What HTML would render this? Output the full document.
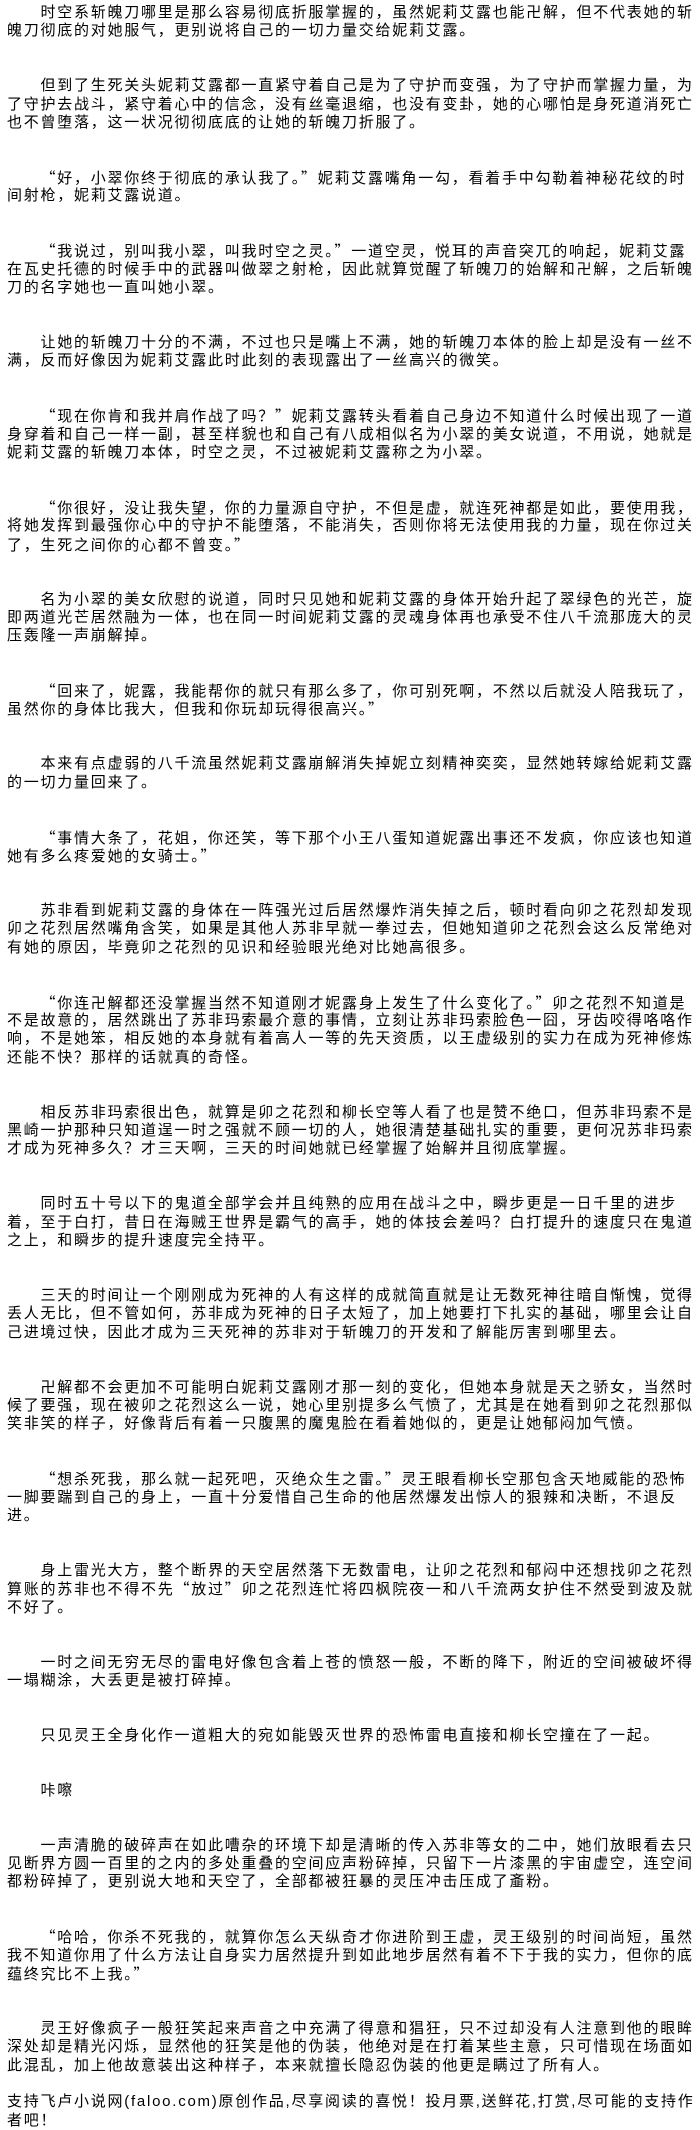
<!DOCTYPE html>
<html><head><meta charset="utf-8">
<style>
html,body{margin:0;padding:0;background:#fff;}
body{width:700px;height:2129px;overflow:hidden;}
#c{padding:4px 0 0 7px;font-family:"Liberation Sans","Noto Sans CJK SC",sans-serif;font-size:15px;letter-spacing:1.75px;color:#000;}
.l{height:18.33px;line-height:18.33px;white-space:nowrap;}
.p{margin-bottom:36.66px;}
.i{padding-left:33.5px;}
.q{font-family:"Noto Sans CJK SC",sans-serif;}
.f{margin-top:18.33px;}
</style></head><body><div id="c">
<div class="p"><div class="l i">时空系斩魄刀哪里是那么容易彻底折服掌握的，虽然妮莉艾露也能卍解，但不代表她的斩</div><div class="l">魄刀彻底的对她服气，更别说将自己的一切力量交给妮莉艾露。</div></div>
<div class="p"><div class="l i">但到了生死关头妮莉艾露都一直紧守着自己是为了守护而变强，为了守护而掌握力量，为</div><div class="l">了守护去战斗，紧守着心中的信念，没有丝毫退缩，也没有变卦，她的心哪怕是身死道消死亡</div><div class="l">也不曾堕落，这一状况彻彻底底的让她的斩魄刀折服了。</div></div>
<div class="p"><div class="l i"><span class="q">“</span>好，小翠你终于彻底的承认我了。<span class="q">”</span>妮莉艾露嘴角一勾，看着手中勾勒着神秘花纹的时</div><div class="l">间射枪，妮莉艾露说道。</div></div>
<div class="p"><div class="l i"><span class="q">“</span>我说过，别叫我小翠，叫我时空之灵。<span class="q">”</span>一道空灵，悦耳的声音突兀的响起，妮莉艾露</div><div class="l">在瓦史托德的时候手中的武器叫做翠之射枪，因此就算觉醒了斩魄刀的始解和卍解，之后斩魄</div><div class="l">刀的名字她也一直叫她小翠。</div></div>
<div class="p"><div class="l i">让她的斩魄刀十分的不满，不过也只是嘴上不满，她的斩魄刀本体的脸上却是没有一丝不</div><div class="l">满，反而好像因为妮莉艾露此时此刻的表现露出了一丝高兴的微笑。</div></div>
<div class="p"><div class="l i"><span class="q">“</span>现在你肯和我并肩作战了吗？<span class="q">”</span>妮莉艾露转头看着自己身边不知道什么时候出现了一道</div><div class="l">身穿着和自己一样一副，甚至样貌也和自己有八成相似名为小翠的美女说道，不用说，她就是</div><div class="l">妮莉艾露的斩魄刀本体，时空之灵，不过被妮莉艾露称之为小翠。</div></div>
<div class="p"><div class="l i"><span class="q">“</span>你很好，没让我失望，你的力量源自守护，不但是虚，就连死神都是如此，要使用我，</div><div class="l">将她发挥到最强你心中的守护不能堕落，不能消失，否则你将无法使用我的力量，现在你过关</div><div class="l">了，生死之间你的心都不曾变。<span class="q">”</span></div></div>
<div class="p"><div class="l i">名为小翠的美女欣慰的说道，同时只见她和妮莉艾露的身体开始升起了翠绿色的光芒，旋</div><div class="l">即两道光芒居然融为一体，也在同一时间妮莉艾露的灵魂身体再也承受不住八千流那庞大的灵</div><div class="l">压轰隆一声崩解掉。</div></div>
<div class="p"><div class="l i"><span class="q">“</span>回来了，妮露，我能帮你的就只有那么多了，你可别死啊，不然以后就没人陪我玩了，</div><div class="l">虽然你的身体比我大，但我和你玩却玩得很高兴。<span class="q">”</span></div></div>
<div class="p"><div class="l i">本来有点虚弱的八千流虽然妮莉艾露崩解消失掉妮立刻精神奕奕，显然她转嫁给妮莉艾露</div><div class="l">的一切力量回来了。</div></div>
<div class="p"><div class="l i"><span class="q">“</span>事情大条了，花姐，你还笑，等下那个小王八蛋知道妮露出事还不发疯，你应该也知道</div><div class="l">她有多么疼爱她的女骑士。<span class="q">”</span></div></div>
<div class="p"><div class="l i">苏非看到妮莉艾露的身体在一阵强光过后居然爆炸消失掉之后，顿时看向卯之花烈却发现</div><div class="l">卯之花烈居然嘴角含笑，如果是其他人苏非早就一拳过去，但她知道卯之花烈会这么反常绝对</div><div class="l">有她的原因，毕竟卯之花烈的见识和经验眼光绝对比她高很多。</div></div>
<div class="p"><div class="l i"><span class="q">“</span>你连卍解都还没掌握当然不知道刚才妮露身上发生了什么变化了。<span class="q">”</span>卯之花烈不知道是</div><div class="l">不是故意的，居然跳出了苏非玛索最介意的事情，立刻让苏非玛索脸色一囧，牙齿咬得咯咯作</div><div class="l">响，不是她笨，相反她的本身就有着高人一等的先天资质，以王虚级别的实力在成为死神修炼</div><div class="l">还能不快？那样的话就真的奇怪。</div></div>
<div class="p"><div class="l i">相反苏非玛索很出色，就算是卯之花烈和柳长空等人看了也是赞不绝口，但苏非玛索不是</div><div class="l">黑崎一护那种只知道逞一时之强就不顾一切的人，她很清楚基础扎实的重要，更何况苏非玛索</div><div class="l">才成为死神多久？才三天啊，三天的时间她就已经掌握了始解并且彻底掌握。</div></div>
<div class="p"><div class="l i">同时五十号以下的鬼道全部学会并且纯熟的应用在战斗之中，瞬步更是一日千里的进步</div><div class="l">着，至于白打，昔日在海贼王世界是霸气的高手，她的体技会差吗？白打提升的速度只在鬼道</div><div class="l">之上，和瞬步的提升速度完全持平。</div></div>
<div class="p"><div class="l i">三天的时间让一个刚刚成为死神的人有这样的成就简直就是让无数死神往暗自惭愧，觉得</div><div class="l">丢人无比，但不管如何，苏非成为死神的日子太短了，加上她要打下扎实的基础，哪里会让自</div><div class="l">己进境过快，因此才成为三天死神的苏非对于斩魄刀的开发和了解能厉害到哪里去。</div></div>
<div class="p"><div class="l i">卍解都不会更加不可能明白妮莉艾露刚才那一刻的变化，但她本身就是天之骄女，当然时</div><div class="l">候了要强，现在被卯之花烈这么一说，她心里别提多么气愤了，尤其是在她看到卯之花烈那似</div><div class="l">笑非笑的样子，好像背后有着一只腹黑的魔鬼脸在看着她似的，更是让她郁闷加气愤。</div></div>
<div class="p"><div class="l i"><span class="q">“</span>想杀死我，那么就一起死吧，灭绝众生之雷。<span class="q">”</span>灵王眼看柳长空那包含天地威能的恐怖</div><div class="l">一脚要踹到自己的身上，一直十分爱惜自己生命的他居然爆发出惊人的狠辣和决断，不退反</div><div class="l">进。</div></div>
<div class="p"><div class="l i">身上雷光大方，整个断界的天空居然落下无数雷电，让卯之花烈和郁闷中还想找卯之花烈</div><div class="l">算账的苏非也不得不先<span class="q">“</span>放过<span class="q">”</span>卯之花烈连忙将四枫院夜一和八千流两女护住不然受到波及就</div><div class="l">不好了。</div></div>
<div class="p"><div class="l i">一时之间无穷无尽的雷电好像包含着上苍的愤怒一般，不断的降下，附近的空间被破坏得</div><div class="l">一塌糊涂，大丢更是被打碎掉。</div></div>
<div class="p"><div class="l i">只见灵王全身化作一道粗大的宛如能毁灭世界的恐怖雷电直接和柳长空撞在了一起。</div></div>
<div class="p"><div class="l i">咔嚓</div></div>
<div class="p"><div class="l i">一声清脆的破碎声在如此嘈杂的环境下却是清晰的传入苏非等女的二中，她们放眼看去只</div><div class="l">见断界方圆一百里的之内的多处重叠的空间应声粉碎掉，只留下一片漆黑的宇宙虚空，连空间</div><div class="l">都粉碎掉了，更别说大地和天空了，全部都被狂暴的灵压冲击压成了齑粉。</div></div>
<div class="p"><div class="l i"><span class="q">“</span>哈哈，你杀不死我的，就算你怎么天纵奇才你进阶到王虚，灵王级别的时间尚短，虽然</div><div class="l">我不知道你用了什么方法让自身实力居然提升到如此地步居然有着不下于我的实力，但你的底</div><div class="l">蕴终究比不上我。<span class="q">”</span></div></div>
<div><div class="l i">灵王好像疯子一般狂笑起来声音之中充满了得意和猖狂，只不过却没有人注意到他的眼眸</div><div class="l">深处却是精光闪烁，显然他的狂笑是他的伪装，他绝对是在打着某些主意，只可惜现在场面如</div><div class="l">此混乱，加上他故意装出这种样子，本来就擅长隐忍伪装的他更是瞒过了所有人。</div></div>
<div class="f"><div class="l">支持飞卢小说网(faloo.com)原创作品,尽享阅读的喜悦！投月票,送鲜花,打赏,尽可能的支持作</div><div class="l">者吧！</div></div>
</div></body></html>
